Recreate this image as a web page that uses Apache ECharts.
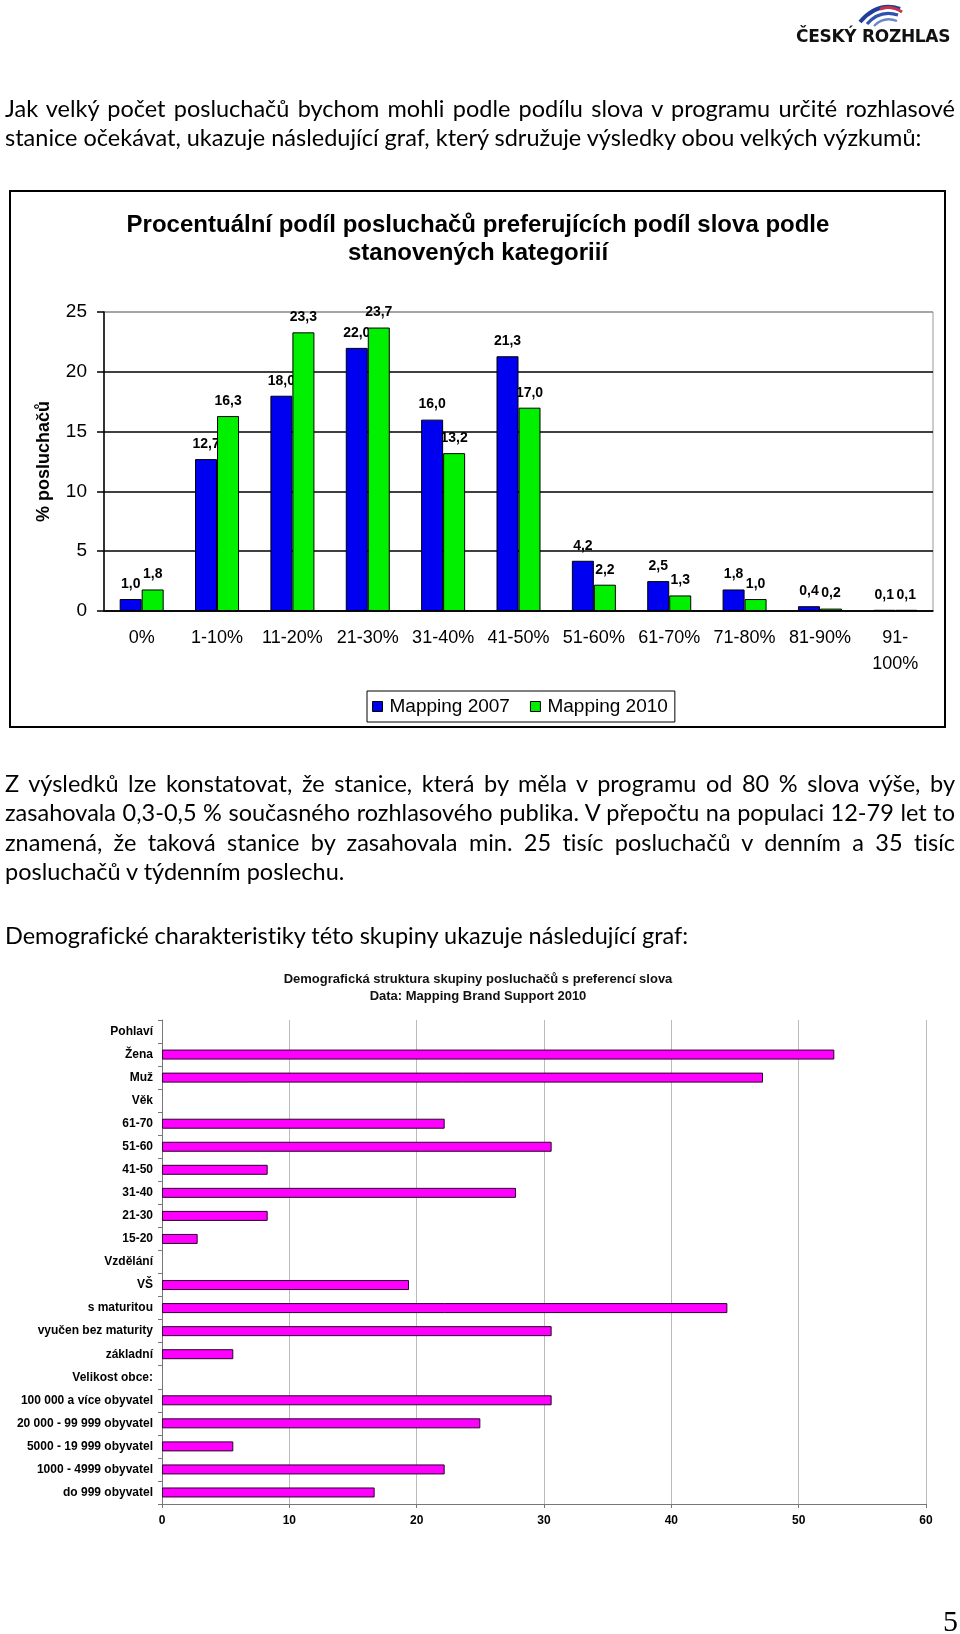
<!DOCTYPE html>
<html>
<head>
<meta charset="utf-8">
<script src="https://cdn.jsdelivr.net/npm/echarts@6/dist/echarts.min.js"></script>
<style>
  html, body { margin: 0; padding: 0; background: #fff; }
  #page { position: relative; width: 960px; height: 1634px; overflow: hidden; }
  #chart { position: absolute; left: 0; top: 0; width: 960px; height: 1634px; }
  .ln { position: absolute; left: 5px; width: 950px; height: 29px; line-height: 29px;
        font-family: Lato, "Noto Sans", sans-serif; font-size: 23.5px; color: #000;
        font-variant-ligatures: none; font-feature-settings: "liga" 0, "clig" 0;
        white-space: nowrap; text-align: justify; text-align-last: justify; }
  .ln.last { text-align: left; text-align-last: left; }
  #logo { position: absolute; left: 790px; top: 0; width: 170px; height: 50px; }
  #logo .t { position: absolute; left: 6px; top: 26px; font-family: "DejaVu Sans", sans-serif;
             font-weight: bold; font-size: 17px; color: #111; letter-spacing: -0.3px; }
  #pnum { position: absolute; left: 943px; top: 1604px; font-family: "Liberation Serif", serif;
          font-size: 30px; color: #000; }
</style>
</head>
<body>
<div id="page">
  <div id="chart"></div>

  <div id="logo">
    <svg width="170" height="30" style="position:absolute;left:0;top:0">
      <path d="M110 9 Q88 1 70 22" stroke="#1f3f9a" stroke-width="4" fill="none"/>
      <path d="M108 15 Q90 9 77 24" stroke="#2f52b0" stroke-width="3.2" fill="none"/>
      <path d="M107 21 Q94 16 84 26" stroke="#6b86cc" stroke-width="2.4" fill="none"/>
      <path d="M112 12 Q101 5 90 9" stroke="#c8324a" stroke-width="3" fill="none"/>
    </svg>
    <div class="t">ČESKÝ ROZHLAS</div>
  </div>

  <div class="ln" style="top:94px">Jak velký počet posluchačů bychom mohli podle podílu slova v programu určité rozhlasové</div>
  <div class="ln last" style="top:123px">stanice očekávat, ukazuje následující graf, který sdružuje výsledky obou velkých výzkumů:</div>

  <div class="ln" style="top:769px">Z výsledků lze konstatovat, že stanice, která by měla v programu od 80 % slova výše, by</div>
  <div class="ln" style="top:798px">zasahovala 0,3-0,5 % současného rozhlasového publika. V přepočtu na populaci 12-79 let to</div>
  <div class="ln" style="top:828px">znamená, že taková stanice by zasahovala min. 25 tisíc posluchačů v denním a 35 tisíc</div>
  <div class="ln last" style="top:857px">posluchačů v týdenním poslechu.</div>

  <div class="ln last" style="top:921px">Demografické charakteristiky této skupiny ukazuje následující graf:</div>

  <div id="pnum">5</div>
</div>

<script>
  // graf 1 - podíl slova
  var kategoriePodil = ['0%', '1-10%', '11-20%', '21-30%', '31-40%', '41-50%', '51-60%', '61-70%', '71-80%', '81-90%', '91-100%'];
  var mapping2007 = [1.0, 12.7, 18.0, 22.0, 16.0, 21.3, 4.2, 2.5, 1.8, 0.4, 0.1];
  var mapping2010 = [1.8, 16.3, 23.3, 23.7, 13.2, 17.0, 2.2, 1.3, 1.0, 0.2, 0.1];

  // graf 2 - demografie
  var demoKategorie = ['Pohlaví', 'Žena', 'Muž', 'Věk', '61-70', '51-60', '41-50', '31-40', '21-30', '15-20',
    'Vzdělání', 'VŠ', 's maturitou', 'vyučen bez maturity', 'základní', 'Velikost obce:',
    '100 000 a více obyvatel', '20 000 - 99 999 obyvatel', '5000 - 19 999 obyvatel', '1000 - 4999 obyvatel', 'do 999 obyvatel'];
  var demoHodnoty = [null, 52.8, 47.2, null, 22.2, 30.6, 8.3, 27.8, 8.3, 2.8,
    null, 19.4, 44.4, 30.6, 5.6, null,
    30.6, 25.0, 5.6, 22.2, 16.7];

  var myChart = echarts.init(document.getElementById('chart'));

  var labelCz = function (p) { return p.value.toFixed(1).replace('.', ','); };
  var bold = 'bold';

  var option = {
    animation: false,
    textStyle: { fontFamily: 'Liberation Sans, Arial, sans-serif' },
    graphic: [
      // rámeček grafu 1
      { type: 'rect', shape: { x: 10, y: 191, width: 935, height: 536 },
        style: { fill: 'none', stroke: '#000', lineWidth: 2 }, z: 100 },
      { type: 'text', x: 478, y: 239,
        style: { text: 'Procentuální podíl posluchačů preferujících podíl slova podle\nstanovených kategoriií',
          fill: '#000', font: 'bold 24px "Liberation Sans", Arial', align: 'center', verticalAlign: 'middle', lineHeight: 28 } },
      { type: 'text', x: 478, y: 988,
        style: { text: 'Demografická struktura skupiny posluchačů s preferencí slova\nData: Mapping Brand Support 2010',
          fill: '#111', font: 'bold 13px "Liberation Sans", Arial', align: 'center', verticalAlign: 'middle', lineHeight: 17.5 } }
    ],
    legend: {
      data: ['Mapping 2007', 'Mapping 2010'],
      left: 367, top: 691,
      borderColor: '#000', borderWidth: 1,
      padding: [6, 7, 6, 5],
      itemWidth: 10, itemHeight: 10, itemGap: 20,
      icon: 'rect',
      itemStyle: { borderColor: '#000', borderWidth: 1 },
      textStyle: { fontSize: 19, color: '#000', padding: [0, 0, 0, 2] }
    },
    grid: [
      { left: 104, top: 312, width: 829, height: 299, show: true, borderColor: '#999', borderWidth: 1, backgroundColor: 'transparent' },
      { left: 162, top: 1020, width: 764, height: 484 }
    ],
    xAxis: [
      {
        gridIndex: 0, type: 'category', data: kategoriePodil,
        axisLine: { lineStyle: { color: '#000', width: 1.5 } },
        axisTick: { length: 6, lineStyle: { color: '#000', width: 1.5 } },
        axisLabel: { color: '#000', fontSize: 18, margin: 14, lineHeight: 26, interval: 0,
          formatter: function (v) { return v.replace('91-', '91-\n'); } }
      },
      {
        gridIndex: 1, type: 'value', min: 0, max: 60, interval: 10,
        axisLine: { show: true, lineStyle: { color: '#777' } },
        axisTick: { show: true, length: 4, lineStyle: { color: '#777' } },
        splitLine: { lineStyle: { color: '#bbb', width: 1 } },
        axisLabel: { color: '#000', fontSize: 12, fontWeight: bold, margin: 11 }
      }
    ],
    yAxis: [
      {
        gridIndex: 0, type: 'value', min: 0, max: 25, interval: 5,
        name: '% posluchačů', nameLocation: 'middle', nameGap: 51, nameRotate: 90,
        nameTextStyle: { fontSize: 18, fontWeight: bold, color: '#000' },
        axisLine: { show: true, lineStyle: { color: '#000', width: 1.5 } },
        axisTick: { show: true, length: 7, lineStyle: { color: '#000', width: 1.5 } },
        splitLine: { lineStyle: { color: ['#000', '#000', '#000', '#000', '#000', '#999'], width: 1.5 } },
        axisLabel: { color: '#000', fontSize: 19, margin: 17 }
      },
      {
        gridIndex: 1, type: 'category', data: demoKategorie, inverse: true,
        axisLine: { show: true, lineStyle: { color: '#777' } },
        axisTick: { show: true, length: 4, lineStyle: { color: '#777' } },
        axisLabel: { color: '#000', fontSize: 12, fontWeight: bold, margin: 9, interval: 0 }
      }
    ],
    series: [
      {
        name: 'Mapping 2007', type: 'bar', xAxisIndex: 0, yAxisIndex: 0,
        data: mapping2007, barWidth: 22, barGap: '0%', z: 2,
        itemStyle: { color: '#0000F0', borderColor: '#000', borderWidth: 1 },
        label: { show: true, position: 'top', distance: 8, color: '#000', fontSize: 14, fontWeight: bold, formatter: labelCz }
      },
      {
        name: 'Mapping 2010', type: 'bar', xAxisIndex: 0, yAxisIndex: 0,
        data: mapping2010, barWidth: 22, barGap: '0%', z: 3,
        itemStyle: { color: '#00F000', borderColor: '#000', borderWidth: 1 },
        label: { show: true, position: 'top', distance: 8, color: '#000', fontSize: 14, fontWeight: bold, formatter: labelCz }
      },
      {
        name: 'Demografie', type: 'bar', xAxisIndex: 1, yAxisIndex: 1,
        data: demoHodnoty, barWidth: 10,
        itemStyle: { color: '#FF00FF', borderColor: '#2a002a', borderWidth: 1 }
      }
    ]
  };

  myChart.setOption(option);
</script>
</body>
</html>
